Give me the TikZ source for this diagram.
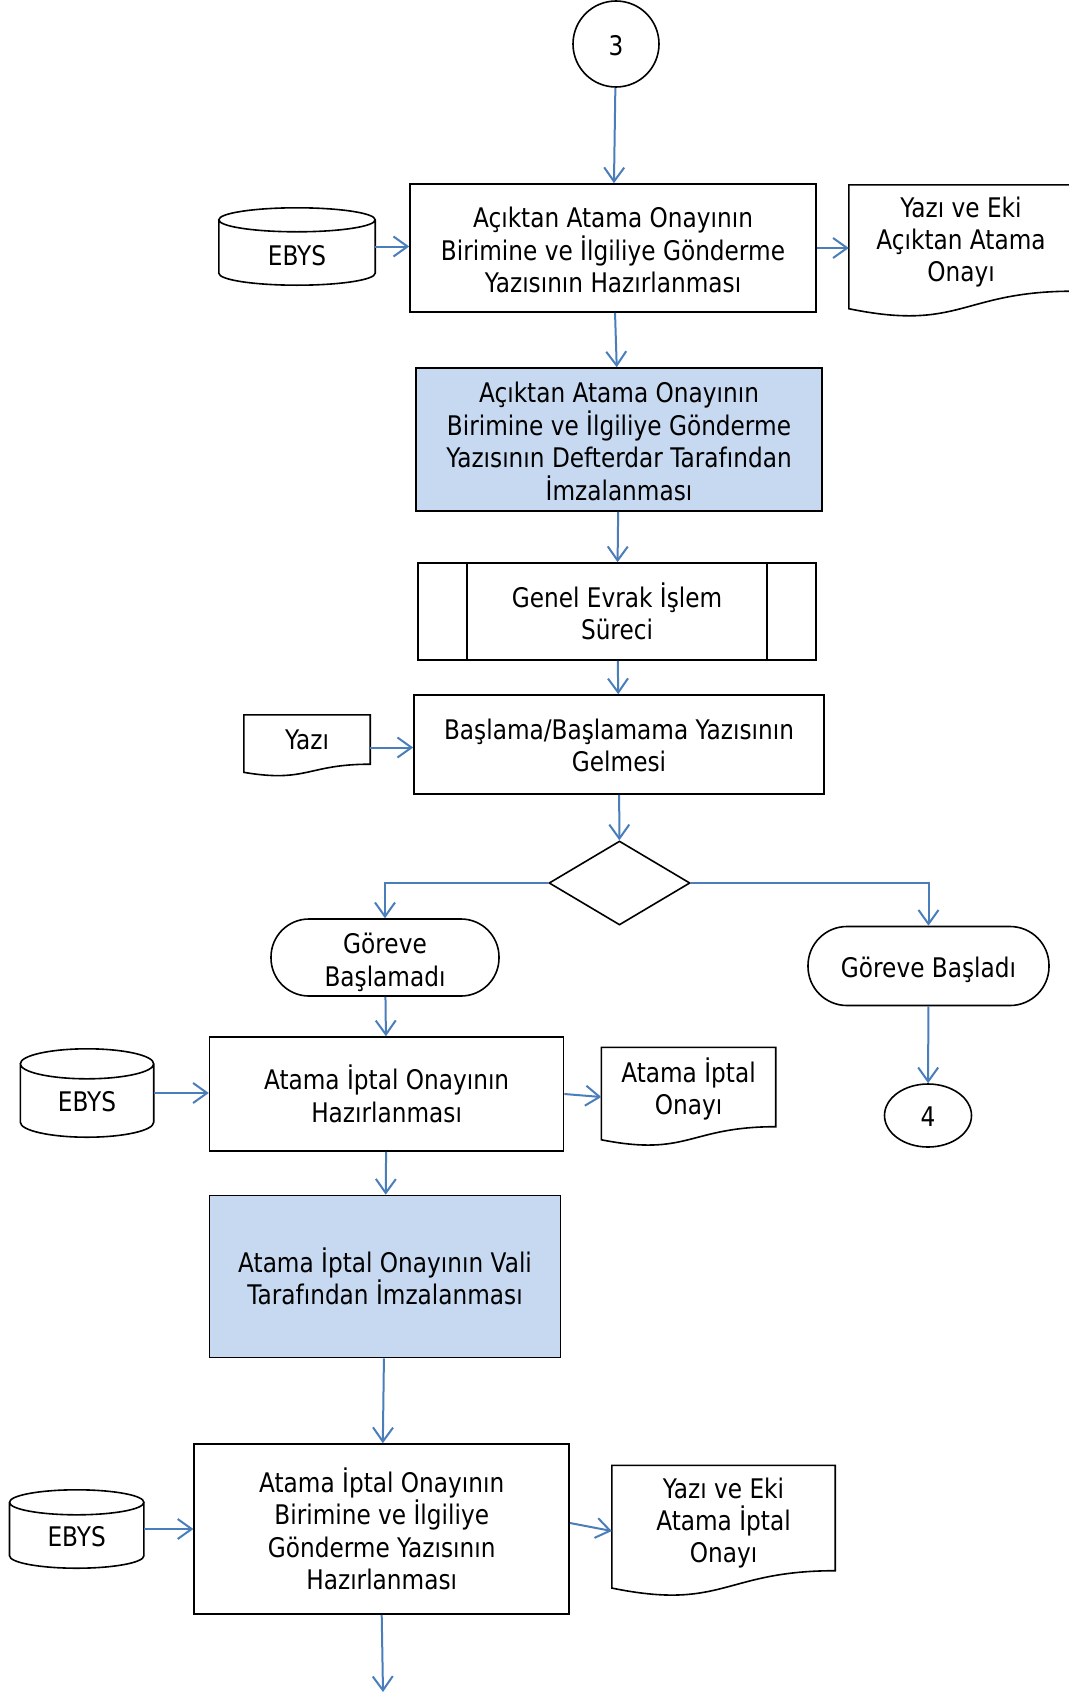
\documentclass[tikz,border=0pt]{standalone}
\usepackage{fontspec}
\setmainfont{DejaVu Sans}[FakeStretch=0.86]
\usetikzlibrary{arrows.meta,shapes.geometric,calc}
\definecolor{arrowblue}{RGB}{74,126,187}
\definecolor{fillblue}{RGB}{198,217,241}
\tikzset{
  every node/.style={font=\fontsize{27}{32.4}\selectfont, align=center, inner sep=0pt},
  shapeline/.style={draw=black, line width=1.6pt},
  procbox/.style={shapeline, rectangle},
  blueproc/.style={procbox, fill=fillblue},
  termbox/.style={shapeline, rectangle, rounded corners=#1},
  arr/.style={draw=arrowblue, line width=2pt, -{Straight Barb[length=14pt,width=20pt,line width=2pt]}}
}
\newcommand\drawcyl[2]{%
  \draw[shapeline] let \p1=(#1.north west), \p2=(#1.south east), \n1={0.5*(\x2-\x1)} in
    ($(#1.north)+(0,-#2)$) ellipse [x radius=\n1, y radius=#2pt]
    (\x1,\y1-#2pt) -- (\x1,\y2+#2pt) arc[start angle=180, end angle=360, x radius=\n1, y radius=#2pt] -- (\x2,\y1-#2pt);}
\newcommand\drawdoc[1]{%
  \draw[shapeline] (#1.south east) -- (#1.north east) -- (#1.north west) --
    ($(#1.north west)!1.1646!(#1.south west)$) .. controls ($(#1.north)!1.3815!(#1.south)$) and (#1.south) .. (#1.south east) -- cycle;}
\newcommand\lowtext[2]{\raisebox{-#1}[\height][\depth]{#2}}
\newcommand\topstrut[1]{\rule{0pt}{#1}}
\begin{document}
\begin{tikzpicture}[x=1pt,y=1pt]
\useasboundingbox (0,0) rectangle (1068,-1694);
\fill[white] (0,0) rectangle (1068,-1694);

% top part
\node[shapeline, circle, minimum size=86pt] (c3) at (616,-44) {\lowtext{2pt}{3}};
\node[procbox, minimum width=406pt, minimum height=128pt] (box1) at (613,-248)
  {\topstrut{24.5pt}Açıktan Atama Onayının\\Birimine ve İlgiliye Gönderme\\Yazısının Hazırlanması};
\node[minimum width=156pt, minimum height=77pt] (ebys1) at (297,-246.5) {\lowtext{9pt}{EBYS}};
\drawcyl{ebys1}{12}
\node[minimum width=224pt, minimum height=106pt] (doc1) at (961,-238) {\topstrut{28.5pt}Yazı ve Eki\\Açıktan Atama\\Onayı};
\drawdoc{doc1}

\node[blueproc, minimum width=406pt, minimum height=143pt] (box2) at (619,-439.5)
  {\topstrut{24.5pt}Açıktan Atama Onayının\\Birimine ve İlgiliye Gönderme\\Yazısının Defterdar Tarafından\\İmzalanması};

\node[procbox, minimum width=398pt, minimum height=97pt] (pp) at (617,-611.5) {Genel Evrak İşlem\\Süreci};
\draw[shapeline] ([xshift=50pt]pp.north west) -- ([xshift=50pt]pp.south west);
\draw[shapeline] ([xshift=-50pt]pp.north east) -- ([xshift=-50pt]pp.south east);

\node[procbox, minimum width=410pt, minimum height=99pt] (box3) at (619,-744.5)
  {\topstrut{22.5pt}Başlama/Başlamama Yazısının\\Gelmesi};
\node[minimum width=126pt, minimum height=49pt] (yazi) at (307,-739.5) {Yazı};
\drawdoc{yazi}

\node[shapeline, diamond, minimum width=141pt, minimum height=84pt] (dec) at (619.5,-883) {};

\node[termbox=38pt, minimum width=228pt, minimum height=77pt] (term1) at (385,-957.5) {\topstrut{30.5pt}Göreve\\Başlamadı};
\node[termbox=39pt, minimum width=241pt, minimum height=79pt] (term2) at (928.5,-966) {\lowtext{4pt}{Göreve Başladı}};
\node[shapeline, ellipse, minimum width=87pt, minimum height=63pt] (c4) at (928,-1115.5) {\lowtext{1pt}{4}};

% lower part
\node[procbox, minimum width=354pt, minimum height=114pt] (box4) at (386.6,-1094) {Atama İptal Onayının\\Hazırlanması};
\node[minimum width=133pt, minimum height=88pt] (ebys2) at (87,-1093) {\lowtext{9pt}{EBYS}};
\drawcyl{ebys2}{15}
\node[minimum width=174pt, minimum height=79pt] (doc4) at (688.5,-1087) {\topstrut{29pt}Atama İptal\\Onayı};
\drawdoc{doc4}

\node[blueproc, minimum width=351pt, minimum height=162pt] (box5) at (385,-1276.5)
  {Atama İptal Onayının Vali\\Tarafından İmzalanması};

\node[procbox, minimum width=375pt, minimum height=170pt] (box6) at (381.7,-1529)
  {Atama İptal Onayının\\Birimine ve İlgiliye\\Gönderme Yazısının\\Hazırlanması};
\node[minimum width=134pt, minimum height=78pt] (ebys3) at (76.7,-1529) {\lowtext{8pt}{EBYS}};
\drawcyl{ebys3}{12.5}
\node[minimum width=223pt, minimum height=105pt] (doc6) at (723.5,-1518) {\topstrut{30.5pt}Yazı ve Eki\\Atama İptal\\Onayı};
\drawdoc{doc6}
\coordinate (endc) at (383,-1692);

% connectors
\draw[arr] (c3) -- (box1);
\draw[arr] (ebys1.east) -- (ebys1.east -| box1.west);
\draw[arr] (box1.east) -- (box1.east -| doc1.west);
\draw[arr] (box1) -- (box2);
\draw[arr] (box2) -- (pp);
\draw[arr] (pp) -- (box3);
\draw[arr] ([yshift=-8pt]yazi.east) -- ([yshift=-8pt]yazi.east -| box3.west);
\draw[arr] (box3) -- (dec);
\draw[arr] (dec.west) -| (term1.north);
\draw[arr] (dec.east) -| (term2.north);
\draw[arr] (term2) -- (c4);
\draw[arr] (term1) -- (box4);
\draw[arr] (ebys2.east) -- (ebys2.east -| box4.west);
\draw[arr] (box4.east) -- ([yshift=-10pt]doc4.west);
\draw[arr] (box4) -- (box5);
\draw[arr] (box5) -- (box6);
\draw[arr] (ebys3.east) -- (ebys3.east -| box6.west);
\draw[arr] ([yshift=6pt]box6.east) -- ([yshift=-13pt]doc6.west);
\draw[arr] (box6.south) -- (endc);
\end{tikzpicture}
\end{document}
